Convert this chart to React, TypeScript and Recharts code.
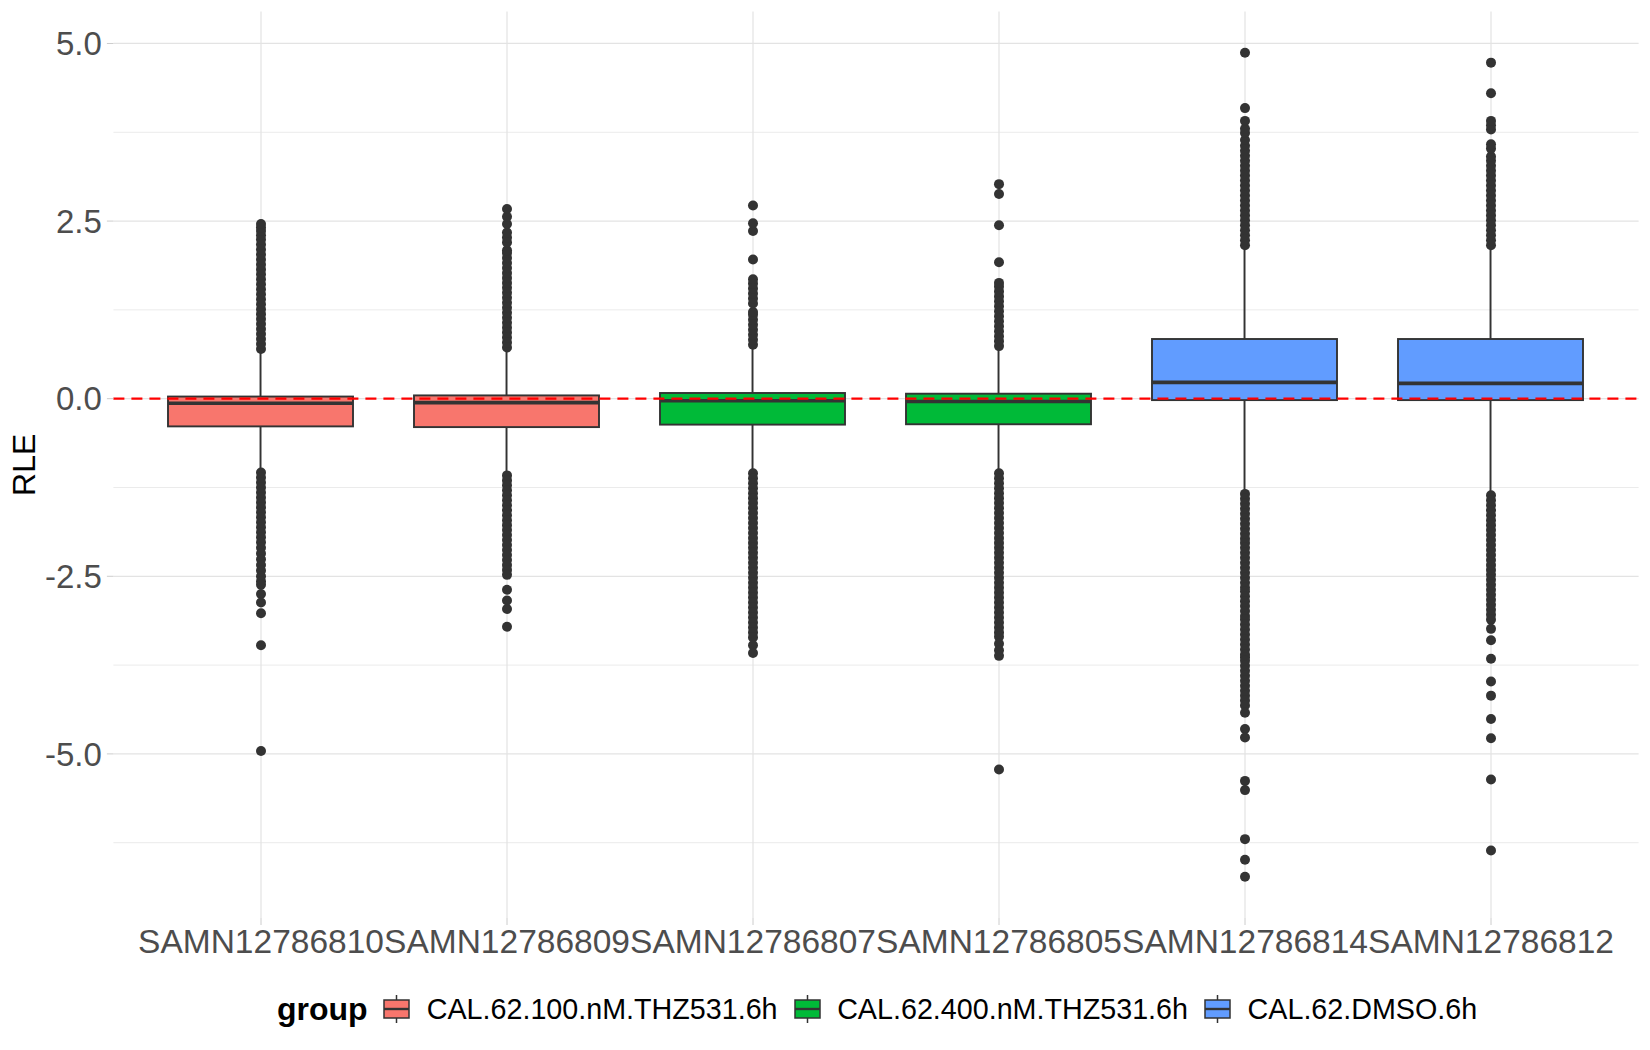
import React from "react";
import {
  ComposedChart,
  Bar,
  Scatter,
  XAxis,
  YAxis,
  CartesianGrid,
  ReferenceLine,
} from "recharts";

const samples = [
  "SAMN12786810",
  "SAMN12786809",
  "SAMN12786807",
  "SAMN12786805",
  "SAMN12786814",
  "SAMN12786812",
];
const groups = ["CAL.62.100.nM.THZ531.6h", "CAL.62.400.nM.THZ531.6h", "CAL.62.DMSO.6h"];
const groupColors = ["#F8766D", "#00BA38", "#619CFF"];
const sampleGroup = [0, 0, 1, 1, 2, 2];

const lowerWhisker = [-0.99, -1.03, -1.0, -1.0, -1.28, -1.31];
const q1 = [-0.39, -0.4, -0.365, -0.36, -0.02, -0.02];
const median = [-0.065, -0.056, -0.03, -0.04, 0.23, 0.215];
const q3 = [0.03, 0.046, 0.08, 0.07, 0.84, 0.84];
const upperWhisker = [0.65, 0.66, 0.71, 0.69, 2.1, 2.1];

// outliers (dense runs listed point by point)
const out810 = [
  0.7, 0.77, 0.84, 0.91, 0.98, 1.05, 1.12, 1.19, 1.26, 1.33, 1.4, 1.47, 1.54, 1.61, 1.68, 1.75, 1.82, 1.89, 1.96,
  2.03, 2.1, 2.17, 2.24, 2.3, 2.36, 2.41, 2.46,
  -1.04, -1.11, -1.18, -1.25, -1.32, -1.39, -1.46, -1.53, -1.6, -1.67, -1.74, -1.81, -1.88, -1.95, -2.02, -2.1,
  -2.18, -2.26, -2.34, -2.42, -2.5, -2.57, -2.62, -2.75, -2.87, -3.02, -3.47, -4.96,
];
const out809 = [
  0.72, 0.79, 0.86, 0.93, 1.0, 1.07, 1.14, 1.21, 1.28, 1.35, 1.42, 1.49, 1.56, 1.63, 1.7, 1.77, 1.84, 1.91, 1.98,
  2.05, 2.09, 2.2, 2.27, 2.34, 2.46, 2.56, 2.67,
  -1.08, -1.15, -1.22, -1.29, -1.36, -1.43, -1.5, -1.57, -1.64, -1.71, -1.78, -1.85, -1.92, -1.99, -2.06, -2.13,
  -2.2, -2.27, -2.34, -2.41, -2.48, -2.69, -2.84, -2.96, -3.21,
];
const out807 = [
  0.76, 0.83, 0.9, 0.97, 1.04, 1.11, 1.18, 1.22, 1.34, 1.41, 1.48, 1.55, 1.62, 1.68, 1.96, 2.36, 2.47, 2.72,
  -1.05, -1.12, -1.19, -1.26, -1.33, -1.4, -1.47, -1.54, -1.61, -1.68, -1.75, -1.82, -1.89, -1.96, -2.03, -2.1,
  -2.17, -2.24, -2.31, -2.38, -2.45, -2.52, -2.59, -2.66, -2.73, -2.8, -2.87, -2.94, -3.01, -3.08, -3.15, -3.22,
  -3.29, -3.36, -3.47, -3.58,
];
const out805 = [
  0.74, 0.81, 0.88, 0.95, 1.02, 1.09, 1.16, 1.23, 1.3, 1.37, 1.44, 1.51, 1.58, 1.63, 1.92, 2.44, 2.88, 3.02,
  -1.05, -1.12, -1.19, -1.26, -1.33, -1.4, -1.47, -1.54, -1.61, -1.68, -1.75, -1.82, -1.89, -1.96, -2.03, -2.1,
  -2.17, -2.24, -2.31, -2.38, -2.45, -2.52, -2.59, -2.66, -2.73, -2.8, -2.87, -2.94, -3.01, -3.08, -3.15, -3.22,
  -3.29, -3.35, -3.45, -3.54, -3.62, -5.22,
];
const out814 = [
  2.16, 2.23, 2.3, 2.37, 2.44, 2.51, 2.58, 2.65, 2.72, 2.79, 2.86, 2.93, 3.0, 3.07, 3.14, 3.21, 3.28, 3.35, 3.42,
  3.49, 3.56, 3.64, 3.74, 3.8, 3.91, 4.09, 4.87,
  -1.34, -1.41, -1.48, -1.55, -1.62, -1.69, -1.76, -1.83, -1.9, -1.97, -2.03, -2.1, -2.17, -2.24, -2.31, -2.38,
  -2.45, -2.52, -2.59, -2.66, -2.71, -2.78, -2.85, -2.92, -2.99, -3.06, -3.11, -3.18, -3.25, -3.32, -3.39, -3.46,
  -3.53, -3.6, -3.64, -3.69, -3.76, -3.83, -3.9, -3.97, -4.04, -4.11, -4.18, -4.25, -4.32, -4.42, -4.65, -4.77,
  -5.38, -5.51, -6.2, -6.49, -6.73,
];
const out812 = [
  2.16, 2.23, 2.3, 2.37, 2.44, 2.51, 2.58, 2.65, 2.72, 2.79, 2.86, 2.93, 3.0, 3.07, 3.14, 3.21, 3.28, 3.35, 3.41,
  3.52, 3.58, 3.79, 3.85, 3.91, 4.3, 4.73,
  -1.36, -1.43, -1.5, -1.57, -1.64, -1.71, -1.78, -1.85, -1.92, -1.99, -2.06, -2.13, -2.2, -2.27, -2.34, -2.41,
  -2.48, -2.55, -2.62, -2.69, -2.76, -2.83, -2.9, -2.97, -3.04, -3.11, -3.24, -3.4, -3.66, -3.98, -4.18, -4.51,
  -4.78, -5.36, -6.36,
];
const outliers = [out810, out809, out807, out805, out814, out812];

const yTicks = [-5, -2.5, 0, 2.5, 5];
const yMinorGrid = [-6.25, -3.75, -1.25, 1.25, 3.75];

const FONT = "'Liberation Sans', Arial, Helvetica, sans-serif";
const INK = "#333333";

const boxData = samples.map((name, i) => ({
  x: i,
  name,
  group: sampleGroup[i],
  range: [lowerWhisker[i], upperWhisker[i]],
  q1: q1[i],
  median: median[i],
  q3: q3[i],
}));

const outlierPoints = outliers.flatMap((vals, i) => vals.map((v) => ({ x: i, y: v })));
const xPositions = samples.map((_, i) => i);

// ggplot-style 5% expansion of the data range
const allValues = [...lowerWhisker, ...upperWhisker, ...outliers.flat()];
const yLo = Math.min(...allValues);
const yHi = Math.max(...allValues);
const yPad = (yHi - yLo) * 0.05;

function BoxShape(props: any) {
  const { x, y, width, height, payload } = props;
  const [lo, hi] = payload.range;
  const top = Math.min(y, y + height);
  const h = Math.abs(height);
  const toY = (v: number) => top + ((hi - v) / (hi - lo)) * h;
  const cx = x + width / 2;
  const fill = groupColors[payload.group];
  return (
    <g>
      <line x1={cx} x2={cx} y1={toY(hi)} y2={toY(payload.q3)} stroke={INK} strokeWidth={1.9} />
      <line x1={cx} x2={cx} y1={toY(payload.q1)} y2={toY(lo)} stroke={INK} strokeWidth={1.9} />
      <rect
        x={x}
        y={toY(payload.q3)}
        width={width}
        height={toY(payload.q1) - toY(payload.q3)}
        fill={fill}
        stroke={INK}
        strokeWidth={1.9}
      />
      <line
        x1={x}
        x2={x + width}
        y1={toY(payload.median)}
        y2={toY(payload.median)}
        stroke={INK}
        strokeWidth={3.6}
      />
    </g>
  );
}

function Dot(props: any) {
  return <circle cx={props.cx} cy={props.cy} r={5} fill={INK} />;
}

function LegendKey({ color }: { color: string }) {
  return (
    <svg width={27} height={30} style={{ display: "block" }}>
      <line x1={13.5} x2={13.5} y1={1} y2={29} stroke={INK} strokeWidth={1.5} />
      <rect x={1} y={6} width={25} height={18} fill={color} stroke={INK} strokeWidth={1.5} />
      <line x1={1} x2={26} y1={15} y2={15} stroke={INK} strokeWidth={2.4} />
    </svg>
  );
}

export default function App() {
  return (
    <div style={{ position: "absolute", left: 0, top: 0, width: 1650, height: 1050, background: "#fff" }}>
      <ComposedChart
        width={1650}
        height={1050}
        data={boxData}
        margin={{ top: 11.5, right: 11.4, bottom: 0, left: 0 }}
      >
        <CartesianGrid stroke="#EBEBEB" strokeWidth={1} horizontalValues={yMinorGrid} vertical={false} />
        <CartesianGrid
          stroke="#E3E3E3"
          strokeWidth={1.2}
          horizontalValues={yTicks}
          verticalValues={xPositions}
        />
        <XAxis
          type="number"
          dataKey="x"
          domain={[-0.6, samples.length - 0.4]}
          ticks={xPositions}
          interval={0}
          tickFormatter={(i: number) => samples[i]}
          axisLine={false}
          tickLine={{ stroke: "#CCCCCC" }}
          tickSize={7}
          tickMargin={4}
          height={132}
          tick={{ fill: "#4D4D4D", fontSize: 33.5, fontFamily: FONT }}
          allowDataOverflow
        />
        <YAxis
          type="number"
          domain={[yLo - yPad, yHi + yPad]}
          ticks={yTicks}
          tickFormatter={(v: number) => v.toFixed(1)}
          axisLine={false}
          tickLine={{ stroke: "#CCCCCC" }}
          tickSize={6.5}
          tickMargin={5}
          width={113.4}
          tick={{ fill: "#4D4D4D", fontSize: 33, fontFamily: FONT }}
          allowDataOverflow
          label={{
            content: (p: any) => {
              const vb = p.viewBox;
              const cx = vb.x + 35;
              const cy = vb.y + vb.height / 2;
              return (
                <text
                  x={cx}
                  y={cy}
                  transform={`rotate(-90, ${cx}, ${cy})`}
                  textAnchor="middle"
                  fontSize={32}
                  fontFamily={FONT}
                  fill="#000"
                >
                  RLE
                </text>
              );
            },
          }}
        />
        <Bar dataKey="range" barSize={185} shape={BoxShape} isAnimationActive={false} />
        <Scatter data={outlierPoints} dataKey="y" shape={Dot} isAnimationActive={false} />
        <ReferenceLine y={0} stroke="#FF0000" strokeWidth={2.3} strokeDasharray="11 7" />
      </ComposedChart>
      <div
        style={{
          position: "absolute",
          left: 277,
          top: 994,
          height: 30,
          display: "flex",
          alignItems: "center",
          fontFamily: FONT,
          whiteSpace: "nowrap",
        }}
      >
        <span style={{ fontSize: 32, fontWeight: "bold", color: "#000", marginRight: 15.8 }}>group</span>
        {groups.map((g, i) => (
          <div key={g} style={{ display: "flex", alignItems: "center", marginRight: 16.3 }}>
            <LegendKey color={groupColors[i]} />
            <span style={{ fontSize: 28.7, color: "#000", marginLeft: 16.3 }}>{g}</span>
          </div>
        ))}
      </div>
    </div>
  );
}
